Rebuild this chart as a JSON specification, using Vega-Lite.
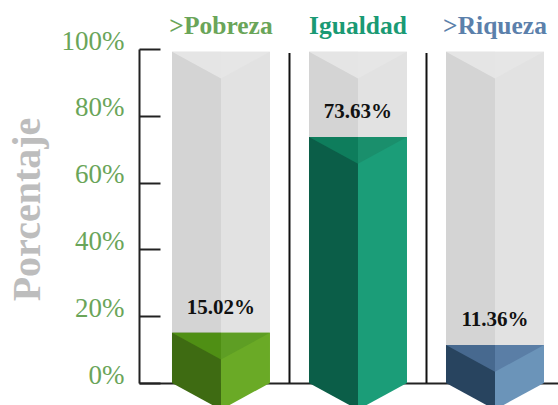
{
  "$schema": "https://vega.github.io/schema/vega-lite/v6.json",
  "width": 419,
  "height": 334,
  "autosize": "none",
  "padding": {"left": 139, "top": 49, "right": 0, "bottom": 22},
  "background": "white",
  "config": {"view": {"stroke": null}},
  "data": {"values": [
    {"cat": ">Pobreza", "value": 0.1502},
    {"cat": "Igualdad", "value": 0.7363},
    {"cat": ">Riqueza", "value": 0.1136}
  ]},
  "encoding": {
    "x": {
      "field": "cat", "type": "nominal", "sort": null,
      "scale": {"type": "band", "paddingInner": 0.2847, "paddingOuter": 0.1715, "align": 0.702},
      "axis": {"orient": "bottom", "labels": false, "ticks": false, "title": null, "domain": true, "domainColor": "#222222", "domainWidth": 2, "zindex": 0, "grid": false}
    }
  },
  "layer": [
    {
      "mark": {"type": "bar", "width": 49, "xOffset": -24.5, "color": "#d4d4d4"},
      "encoding": {
        "y": {"datum": 0.992, "type": "quantitative", "scale": {"domain": [0, 1]},
          "axis": {
            "values": [0, 0.1, 0.2, 0.3, 0.4, 0.5, 0.6, 0.7, 0.8, 0.9, 1],
            "format": ".0%",
            "labelExpr": "round(datum.value*10) % 2 === 0 ? datum.label : ''",
            "labelFont": "Liberation Serif", "labelFontSize": 27, "labelColor": "#6aa559",
            "labelBaseline": "alphabetic", "labelFlush": false, "labelPadding": 36,
            "tickSize": -21, "tickWidth": 2, "tickColor": "#222222",
            "domainColor": "#222222", "domainWidth": 2, "grid": false, "zindex": 0,
            "title": "Porcentaje", "titleFont": "Liberation Serif", "titleFontWeight": "bold",
            "titleFontSize": 40, "titleColor": "#bdbdbd", "titleAngle": -90,
            "titleX": -100, "titleY": 160, "titleBaseline": "alphabetic", "titleAlign": "center"
          }
        },
        "y2": {"datum": 0}
      }
    },
    {
      "mark": {"type": "bar", "width": 49, "xOffset": 24.5, "color": "#e2e2e2"},
      "encoding": {"y": {"datum": 0.992, "type": "quantitative"}, "y2": {"datum": 0}}
    },
    {
      "mark": {"type": "point", "shape": "M -1 0 L 0 0 L 0 0.545 Z", "size": 9604, "filled": true, "opacity": 1, "strokeWidth": 0, "color": "#e5e5e5"},
      "encoding": {"y": {"datum": 0.992, "type": "quantitative"}}
    },
    {
      "mark": {"type": "point", "shape": "M 1 0 L 0 0 L 0 0.545 Z", "size": 9604, "filled": true, "opacity": 1, "strokeWidth": 0, "color": "#e6e6e6"},
      "encoding": {"y": {"datum": 0.992, "type": "quantitative"}}
    },
    {
      "transform": [{"filter": "datum.cat !== '>Pobreza'"}],
      "mark": {"type": "rule", "xOffset": -68.5, "strokeWidth": 2, "color": "#111111"},
      "encoding": {"y": {"datum": 0.988, "type": "quantitative"}, "y2": {"datum": 0}}
    },
    {
      "mark": {"type": "bar", "width": 49, "xOffset": -24.5},
      "encoding": {
        "y": {"field": "value", "type": "quantitative"}, "y2": {"datum": 0},
        "color": {"field": "cat", "type": "nominal", "legend": null,
          "scale": {"domain": [">Pobreza", "Igualdad", ">Riqueza"], "range": ["#3e6b12", "#0b5e48", "#28445f"]}}
      }
    },
    {
      "mark": {"type": "bar", "width": 49, "xOffset": 24.5},
      "encoding": {
        "y": {"field": "value", "type": "quantitative"}, "y2": {"datum": 0},
        "color": {"field": "cat", "type": "nominal", "legend": null,
          "scale": {"domain": [">Pobreza", "Igualdad", ">Riqueza"], "range": ["#6aaa26", "#1b9d78", "#6b94b9"]}}
      }
    },
    {
      "mark": {"type": "point", "shape": "M -1 0 L 0 0 L 0 0.545 Z", "size": 9604, "filled": true, "opacity": 1, "strokeWidth": 0},
      "encoding": {
        "y": {"field": "value", "type": "quantitative"},
        "color": {"field": "cat", "type": "nominal", "legend": null,
          "scale": {"domain": [">Pobreza", "Igualdad", ">Riqueza"], "range": ["#4f8f14", "#0e7d5c", "#47698f"]}}
      }
    },
    {
      "mark": {"type": "point", "shape": "M 1 0 L 0 0 L 0 0.545 Z", "size": 9604, "filled": true, "opacity": 1, "strokeWidth": 0},
      "encoding": {
        "y": {"field": "value", "type": "quantitative"},
        "color": {"field": "cat", "type": "nominal", "legend": null,
          "scale": {"domain": [">Pobreza", "Igualdad", ">Riqueza"], "range": ["#5e9e24", "#1a8f6c", "#5a7ea6"]}}
      }
    },
    {
      "mark": {"type": "point", "shape": "M -1 0 L 0 0 L 0 0.545 Z", "size": 9604, "filled": true, "opacity": 1, "strokeWidth": 0},
      "encoding": {
        "y": {"datum": 0, "type": "quantitative"},
        "color": {"field": "cat", "type": "nominal", "legend": null,
          "scale": {"domain": [">Pobreza", "Igualdad", ">Riqueza"], "range": ["#3e6b12", "#0b5e48", "#28445f"]}}
      }
    },
    {
      "mark": {"type": "point", "shape": "M 1 0 L 0 0 L 0 0.545 Z", "size": 9604, "filled": true, "opacity": 1, "strokeWidth": 0},
      "encoding": {
        "y": {"datum": 0, "type": "quantitative"},
        "color": {"field": "cat", "type": "nominal", "legend": null,
          "scale": {"domain": [">Pobreza", "Igualdad", ">Riqueza"], "range": ["#6aaa26", "#1b9d78", "#6b94b9"]}}
      }
    },
    {
      "mark": {"type": "text", "font": "Liberation Serif", "fontWeight": "bold", "fontSize": 21, "dy": -25, "baseline": "middle", "align": "center", "color": "#111111"},
      "encoding": {
        "y": {"field": "value", "type": "quantitative"},
        "text": {"field": "value", "type": "quantitative", "format": ".2%"}
      }
    },
    {
      "mark": {"type": "text", "font": "Liberation Serif", "fontWeight": "bold", "fontSize": 25.5, "dy": -15, "baseline": "alphabetic", "align": "center"},
      "encoding": {
        "y": {"datum": 1, "type": "quantitative"},
        "text": {"field": "cat", "type": "nominal"},
        "color": {"field": "cat", "type": "nominal", "legend": null,
          "scale": {"domain": [">Pobreza", "Igualdad", ">Riqueza"], "range": ["#6aa559", "#1a9a74", "#5b80ab"]}}
      }
    }
  ],
  "resolve": {"scale": {"color": "independent"}}
}
